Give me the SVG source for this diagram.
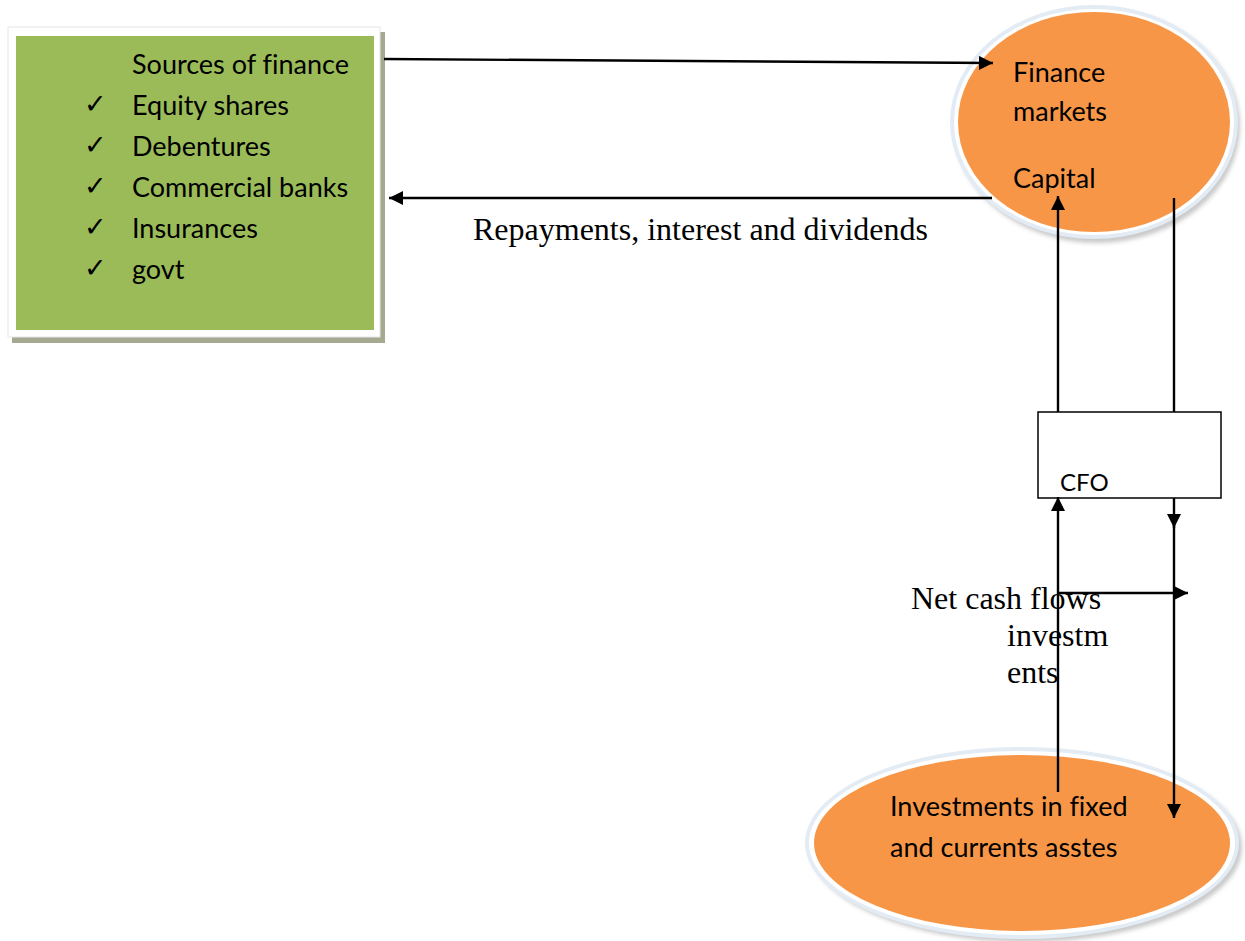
<svg xmlns="http://www.w3.org/2000/svg" width="1245" height="941" viewBox="0 0 1245 941">
  <style>
    .sans { font-family: Lato, "Open Sans", sans-serif; font-size: 27px; fill: #000; font-variant-ligatures: none; }
    .serif { font-family: "Liberation Serif", "Times New Roman", serif; font-size: 32px; fill: #000; }
    .tick { font-family: "DejaVu Sans", sans-serif; font-size: 27px; fill: #000; }
    .wire { stroke: #000; stroke-width: 2.4; fill: none; }
    .orange { fill: #F79646; }
    .rim { fill: #e3ebf4; }
  </style>
  <defs>
    <marker id="arrow" viewBox="0 0 14 14" refX="14" refY="7" markerWidth="14" markerHeight="14" markerUnits="userSpaceOnUse" orient="auto">
      <path d="M0,0 L14,7 L0,14 Z" fill="#000"/>
    </marker>
    <filter id="soft" x="-10%" y="-10%" width="120%" height="120%">
      <feGaussianBlur stdDeviation="2"/>
    </filter>
  </defs>

  <rect width="1245" height="941" fill="#fff"/>

  <!-- Sources of finance box -->
  <g id="sources">
    <rect x="12" y="32" width="373" height="311" fill="#a4a98f"/>
    <rect x="8" y="27" width="372" height="310" fill="#fff" stroke="#e6e6e6" stroke-width="1"/>
    <rect x="16" y="36" width="358" height="294" fill="#9BBB59"/>
    <text class="sans" x="132" y="74">Sources of finance</text>
    <text class="tick" x="84" y="113">✓</text>
    <text class="sans" x="132" y="115">Equity shares</text>
    <text class="tick" x="84" y="154">✓</text>
    <text class="sans" x="132" y="156">Debentures</text>
    <text class="tick" x="84" y="195">✓</text>
    <text class="sans" x="132" y="197">Commercial banks</text>
    <text class="tick" x="84" y="236">✓</text>
    <text class="sans" x="132" y="238">Insurances</text>
    <text class="tick" x="84" y="277">✓</text>
    <text class="sans" x="132" y="279">govt</text>
  </g>

  <!-- Finance markets ellipse -->
  <g id="finance-markets">
    <ellipse cx="1097" cy="126" rx="143" ry="117" fill="#c9c9c9" filter="url(#soft)"/>
    <ellipse class="rim" cx="1094" cy="122" rx="144" ry="117"/>
    <ellipse cx="1094" cy="122" rx="140" ry="113" fill="#fff"/>
    <ellipse class="orange" cx="1094" cy="122" rx="136" ry="110"/>
    <text class="sans" x="1013" y="82">Finance</text>
    <text class="sans" x="1013" y="121">markets</text>
    <text class="sans" x="1013" y="188">Capital</text>
  </g>

  <!-- CFO box -->
  <g id="cfo">
    <rect x="1038" y="412" width="183" height="86" fill="#fff" stroke="#000" stroke-width="1.5"/>
    <text class="sans" x="1060" y="491" style="font-size:24px">CFO</text>
  </g>

  <!-- Investments ellipse -->
  <g id="investments">
    <ellipse cx="1026" cy="847" rx="216" ry="95" fill="#c9c9c9" filter="url(#soft)"/>
    <ellipse class="rim" cx="1022" cy="843" rx="217" ry="96"/>
    <ellipse cx="1022" cy="843" rx="213" ry="92" fill="#fff"/>
    <ellipse class="orange" cx="1022" cy="843" rx="208" ry="88"/>
    <text class="sans" x="890" y="816">Investments in fixed</text>
    <text class="sans" x="890" y="857">and currents asstes</text>
  </g>

  <!-- Connectors -->
  <g id="connectors">
    <line class="wire" x1="384" y1="59" x2="993" y2="63" marker-end="url(#arrow)"/>
    <line class="wire" x1="992" y1="198" x2="389" y2="198" marker-end="url(#arrow)"/>
    <line class="wire" x1="1058" y1="412" x2="1058" y2="196" marker-end="url(#arrow)"/>
    <line class="wire" x1="1174" y1="198" x2="1174" y2="412"/>
    <line class="wire" x1="1058" y1="792" x2="1058" y2="497" marker-end="url(#arrow)"/>
    <line class="wire" x1="1174" y1="498" x2="1174" y2="528" marker-end="url(#arrow)"/>
    <line class="wire" x1="1174" y1="525" x2="1174" y2="818" marker-end="url(#arrow)"/>
    <line class="wire" x1="1058" y1="593" x2="1188" y2="593" marker-end="url(#arrow)"/>
  </g>

  <!-- Flow labels -->
  <g id="labels">
    <text class="serif" x="473" y="240">Repayments, interest and dividends</text>
    <text class="serif" x="911" y="609">Net cash flows</text>
    <text class="serif" x="1007" y="646">investm</text>
    <text class="serif" x="1007" y="683">ents</text>
  </g>
</svg>
